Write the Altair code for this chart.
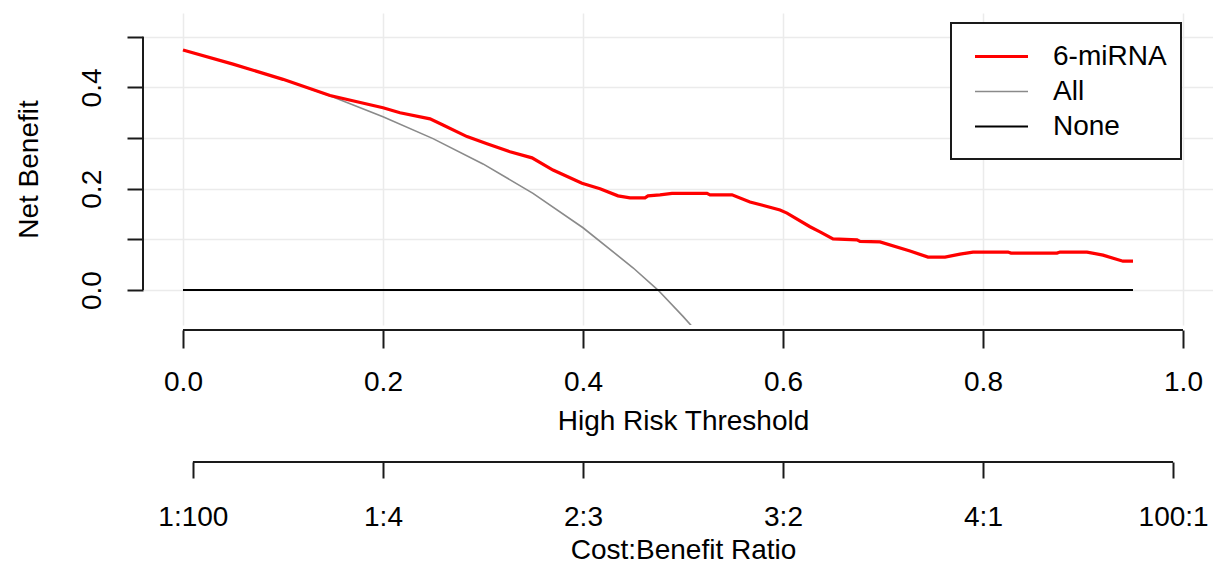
import altair as alt
import pandas as pd

# ---------------- data ----------------
series_names = ["6-miRNA", "All", "None"]
series_colors = ["#ff0000", "#8a8a8a", "#000000"]
series_widths = [3.2, 1.6, 2.0]

model_t = [0.0, 0.05, 0.1, 0.147, 0.2, 0.217, 0.247, 0.26, 0.284, 0.304, 0.327,
           0.349, 0.37, 0.399, 0.417, 0.435, 0.447, 0.462, 0.465, 0.477, 0.489,
           0.524, 0.527, 0.549, 0.567, 0.597, 0.604, 0.627, 0.637, 0.65, 0.674,
           0.677, 0.697, 0.727, 0.745, 0.762, 0.777, 0.79, 0.825, 0.828, 0.874,
           0.877, 0.904, 0.92, 0.94, 0.95]
model_nb = [0.474, 0.446, 0.416, 0.384, 0.360, 0.350, 0.338, 0.326, 0.303, 0.289, 0.273,
            0.261, 0.237, 0.211, 0.200, 0.186, 0.182, 0.182, 0.186, 0.188, 0.191,
            0.191, 0.188, 0.188, 0.174, 0.158, 0.152, 0.125, 0.115, 0.101, 0.099,
            0.096, 0.095, 0.077, 0.065, 0.065, 0.071, 0.075, 0.075, 0.073, 0.073,
            0.075, 0.075, 0.069, 0.057, 0.057]

all_t = [0.0, 0.05, 0.1, 0.15, 0.2, 0.25, 0.3, 0.35, 0.4, 0.45, 0.475, 0.5, 0.52]
all_nb = [0.474, 0.446, 0.416, 0.381, 0.342, 0.299, 0.249, 0.191, 0.123, 0.044, 0.0, -0.052, -0.096]

none_t = [0.0, 0.95]
none_nb = [0.0, 0.0]

x_ticks = [0.0, 0.2, 0.4, 0.6, 0.8, 1.0]
y_ticks = [0.0, 0.1, 0.2, 0.3, 0.4, 0.5]
y_labelled = ["0.0", "0.2", "0.4"]
cb_ticks = [1 / 101, 0.2, 0.4, 0.6, 0.8, 100 / 101]
cb_labels = ["1:100", "1:4", "2:3", "3:2", "4:1", "100:1"]

# ---------------- tables ----------------
lines_df = pd.DataFrame({
    "t": all_t + none_t + model_t,
    "nb": all_nb + none_nb + model_nb,
    "series": ["All"] * len(all_t) + ["None"] * len(none_t) + ["6-miRNA"] * len(model_t),
})
x_axis_df = pd.DataFrame({"x": [x_ticks[0]], "x2": [x_ticks[-1]]})
cb_axis_df = pd.DataFrame({"x": [cb_ticks[0]], "x2": [cb_ticks[-1]]})
y_axis_df = pd.DataFrame({"y": [y_ticks[0]], "y2": [y_ticks[-1]]})
box_df = pd.DataFrame({"k": [0]})

W, H = 1070, 312
FONT = "Liberation Sans"
AX = "#1a1a1a"
xscale = alt.Scale(domain=[-0.04, 1.03], nice=False, zero=False)
yscale = alt.Scale(domain=[-0.069, 0.547], nice=False, zero=False)

common = dict(labelFont=FONT, labelFontSize=28, labelColor="black",
              titleFont=FONT, titleFontSize=28, titleFontWeight="normal", titleColor="black",
              tickColor=AX, tickWidth=2, domain=False,
              labelOverlap=False, labelFlush=False, labelBound=False)

x_axis = alt.Axis(orient="bottom", values=x_ticks, format=".1f", title="High Risk Threshold",
                  offset=5, grid=True, gridColor="#ebebeb", gridWidth=1.5,
                  tickSize=18, labelBaseline="alphabetic", labelPadding=42,
                  titleBaseline="alphabetic", titleAlign="center", titleX=540, titleY=99,
                  **common)

cb_map = "{" + ", ".join(f"'{v:.3f}': '{l}'" for v, l in zip(cb_ticks, cb_labels)) + "}"
cb_axis = alt.Axis(orient="bottom", values=cb_ticks, title="Cost:Benefit Ratio", offset=137,
                   grid=False, tickSize=16, labelBaseline="alphabetic", labelPadding=47,
                   labelExpr=f"{cb_map}[format(datum.value, '.3f')]",
                   titleBaseline="alphabetic", titleAlign="center", titleX=540, titleY=96,
                   **common)

y_list = "[" + ", ".join(f"'{s}'" for s in y_labelled) + "]"
y_axis = alt.Axis(orient="left", values=y_ticks, title="Net Benefit", grid=True,
                  gridColor="#ebebeb", gridWidth=1.5, tickSize=16, labelAngle=270,
                  labelAlign="center", labelBaseline="alphabetic", labelPadding=27,
                  labelExpr=f"indexof({y_list}, format(datum.value, '.1f')) >= 0 ? format(datum.value, '.1f') : ''",
                  titleAngle=270, titleBaseline="alphabetic", titleAlign="center",
                  titleX=-106, titleY=156, **common)

legend = alt.Legend(title=None, orient="none", legendX=830, legendY=26,
                    padding=0, labelFont=FONT, labelFontSize=28,
                    labelColor="black", symbolType="stroke", symbolSize=2809,
                    clipHeight=35, labelOffset=23, rowPadding=0, labelLimit=400)

lines = alt.Chart(lines_df).mark_line(clip=True).encode(
    x=alt.X("t:Q", scale=xscale, axis=x_axis),
    y=alt.Y("nb:Q", scale=yscale, axis=y_axis),
    color=alt.Color("series:N", scale=alt.Scale(domain=series_names, range=series_colors),
                    legend=legend),
    strokeWidth=alt.StrokeWidth("series:N",
                                scale=alt.Scale(type="ordinal", domain=series_names,
                                                range=series_widths),
                                legend=legend),
    detail="series:N",
)

x_line = alt.Chart(x_axis_df).mark_rule(color=AX, strokeWidth=2, clip=False).encode(
    x=alt.X("x:Q", scale=xscale, axis=None), x2="x2:Q", y=alt.value(H + 5))

cb_line = alt.Chart(cb_axis_df).mark_rule(color=AX, strokeWidth=2, clip=False).encode(
    x=alt.X("x:Q", scale=xscale, axis=cb_axis), x2="x2:Q", y=alt.value(H + 137))

y_line = alt.Chart(y_axis_df).mark_rule(color=AX, strokeWidth=2, clip=False).encode(
    y=alt.Y("y:Q", scale=yscale, axis=None), y2="y2:Q", x=alt.value(0))

legend_box = alt.Chart(box_df).mark_rect(fill="white", stroke=AX, strokeWidth=2).encode(
    x=alt.value(808), x2=alt.value(1038), y=alt.value(10), y2=alt.value(146))

chart = alt.layer(x_line, cb_line, y_line, lines, legend_box).resolve_axis(
    x="independent", y="independent"
).properties(
    width=W, height=H,
    autosize=alt.AutoSizeParams(type="none"),
    padding={"left": 143, "top": 13, "right": 0, "bottom": 239},
    background="white",
).configure_view(stroke=None)

chart.save("out.html", embed_options={"renderer": "svg", "actions": False})
